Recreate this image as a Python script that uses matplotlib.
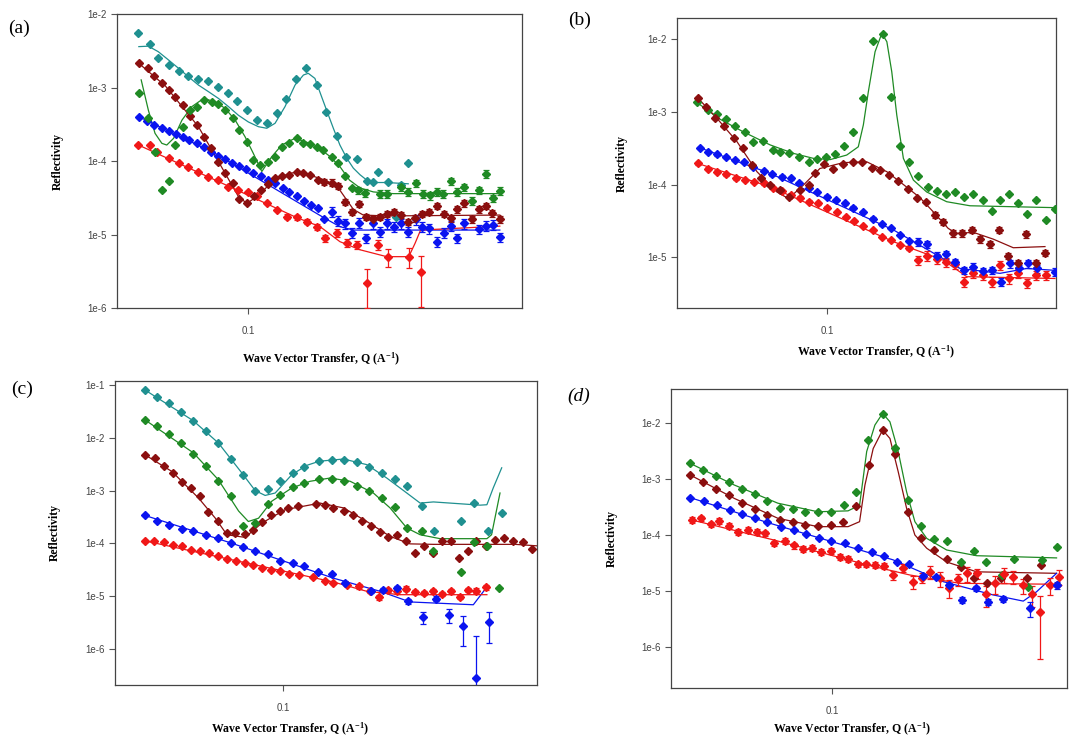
import numpy as np
import matplotlib
matplotlib.use("Agg")
import matplotlib.pyplot as plt
from matplotlib.ticker import NullLocator

plt.rcParams["mathtext.default"] = "regular"

# ---------------- colours ----------------
c_teal = "#1f9090"
c_green = "#1f8a24"
c_brown = "#8b0f0f"
c_blue = "#0a14f0"
c_red = "#f01818"

# ---------------- panel (a) ----------------
a_teal_q = [0.0647, 0.0678, 0.0700, 0.0729, 0.0759, 0.0787, 0.0819, 0.0852, 0.0887, 0.0923,
            0.0957, 0.0996, 0.1036, 0.1078, 0.1122, 0.1164, 0.1211, 0.1259, 0.1313, 0.1360,
            0.1422, 0.1476, 0.1539, 0.1602, 0.1644, 0.1677, 0.1745, 0.1800, 0.1839, 0.1889]
a_teal_r = [5.5e-3, 3.9e-3, 2.5e-3, 2.0e-3, 1.7e-3, 1.43e-3, 1.29e-3, 1.22e-3, 1.03e-3, 8.3e-4,
            6.6e-4, 5.0e-4, 3.6e-4, 3.3e-4, 4.45e-4, 6.9e-4, 1.29e-3, 1.86e-3, 1.08e-3, 4.6e-4,
            2.2e-4, 1.15e-4, 1.08e-4, 5.4e-5, 5.2e-5, 7.1e-5, 5.2e-5, 1.75e-5, 4.7e-5, 9.3e-5]
a_teal_fit_q = [0.0648, 0.0673, 0.0700, 0.0729, 0.0759, 0.0789, 0.0821, 0.0854, 0.0889, 0.0925,
                0.0962, 0.1001, 0.1042, 0.1077, 0.1113, 0.1158, 0.1205, 0.1246, 0.1270, 0.1304,
                0.1339, 0.1366, 0.1403, 0.1440, 0.1480, 0.1519, 0.1560, 0.1602, 0.1666, 0.1734,
                0.1889]
a_teal_fit_r = [3.6e-3, 3.65e-3, 3.07e-3, 2.37e-3, 1.82e-3, 1.40e-3, 1.08e-3, 8.8e-4, 7.1e-4, 5.5e-4,
                4.2e-4, 3.4e-4, 2.93e-4, 2.79e-4, 3.26e-4, 5.5e-4, 1.08e-3, 1.48e-3, 1.56e-3, 1.33e-3,
                7.5e-4, 4.9e-4, 2.79e-4, 1.65e-4, 1.09e-4, 8.0e-5, 6.5e-5, 5.5e-5, 5.1e-5, 5.1e-5,
                4.9e-5]

a_green_q = [0.0648, 0.0671, 0.0692, 0.0710, 0.0729, 0.0748, 0.0773, 0.0794, 0.0816, 0.0841,
             0.0866, 0.0889, 0.0913, 0.0940, 0.0965, 0.0995, 0.1021, 0.1049, 0.1084, 0.1113,
             0.1143, 0.1177, 0.1213, 0.1246, 0.1279, 0.1314, 0.1349, 0.1394, 0.1431, 0.1470,
             0.1510, 0.1550, 0.1591, 0.1689, 0.1734, 0.1839, 0.1889, 0.1948, 0.2005, 0.2059,
             0.2115, 0.2171, 0.2236, 0.2295, 0.2360, 0.2430, 0.2501, 0.2571, 0.2645, 0.2718]
a_green_r = [8.5e-4, 3.8e-4, 1.32e-4, 4.0e-5, 5.4e-5, 1.65e-4, 2.9e-4, 4.9e-4, 5.5e-4, 6.8e-4,
             6.4e-4, 6.0e-4, 4.9e-4, 3.9e-4, 2.64e-4, 1.83e-4, 1.03e-4, 8.8e-5, 9.8e-5, 1.15e-4,
             1.57e-4, 1.74e-4, 2.04e-4, 1.77e-4, 1.70e-4, 1.57e-4, 1.4e-4, 1.15e-4, 9.3e-5, 6.3e-5,
             4.3e-5, 4.0e-5, 3.7e-5, 3.6e-5, 3.6e-5, 4.5e-5, 3.8e-5, 5.0e-5, 3.6e-5, 3.4e-5,
             3.8e-5, 3.6e-5, 5.3e-5, 3.8e-5, 4.4e-5, 2.9e-5, 4.0e-5, 6.7e-5, 3.1e-5, 3.9e-5]
a_green_err = [0.03] * 31 + [0.12] * 19
a_green_fit_q = [0.0654, 0.0673, 0.0691, 0.0710, 0.0724, 0.0744, 0.0769, 0.0800, 0.0838, 0.0877,
                 0.0913, 0.0950, 0.0988, 0.1021, 0.1056, 0.1099, 0.1143, 0.1205, 0.1270, 0.1339,
                 0.1385, 0.1440, 0.1496, 0.1560, 0.1644, 0.1780, 0.2718]
a_green_fit_r = [1.27e-3, 4.9e-4, 2.38e-4, 1.74e-4, 1.65e-4, 2.04e-4, 3.6e-4, 5.5e-4, 7.1e-4, 6.4e-4,
                 5.2e-4, 3.6e-4, 2.14e-4, 1.27e-4, 7.2e-5, 1.15e-4, 1.65e-4, 2.04e-4, 1.77e-4, 1.41e-4,
                 1.15e-4, 8.4e-5, 5.5e-5, 4.3e-5, 3.8e-5, 3.6e-5, 3.6e-5]

a_brown_q = [0.0648, 0.0671, 0.0689, 0.0710, 0.0729, 0.0748, 0.0773, 0.0794, 0.0816, 0.0838,
             0.0864, 0.0889, 0.0913, 0.0940, 0.0965, 0.0995, 0.1025, 0.1053, 0.1084, 0.1113,
             0.1143, 0.1177, 0.1213, 0.1246, 0.1279, 0.1318, 0.1353, 0.1394, 0.1431, 0.1470,
             0.1510, 0.1553, 0.1597, 0.1644, 0.1689, 0.1734, 0.1783, 0.1839, 0.1889, 0.1941,
             0.1994, 0.2055, 0.2115, 0.2177, 0.2236, 0.2295, 0.2360, 0.2430, 0.2501, 0.2571,
             0.2638, 0.2718]
a_brown_r = [2.13e-3, 1.82e-3, 1.43e-3, 1.16e-3, 9.2e-4, 7.5e-4, 5.8e-4, 4.1e-4, 3.1e-4, 2.14e-4,
             1.49e-4, 9.8e-5, 6.8e-5, 5.0e-5, 3.0e-5, 2.7e-5, 3.3e-5, 4.0e-5, 4.9e-5, 5.8e-5,
             6.3e-5, 6.5e-5, 7.2e-5, 6.8e-5, 6.5e-5, 5.6e-5, 5.2e-5, 5.1e-5, 4.6e-5, 2.8e-5,
             2.04e-5, 2.6e-5, 1.75e-5, 1.61e-5, 1.75e-5, 1.9e-5, 2.04e-5, 1.84e-5, 1.49e-5, 1.66e-5,
             1.9e-5, 2.04e-5, 2.44e-5, 1.9e-5, 1.66e-5, 2.2e-5, 2.65e-5, 1.61e-5, 2.2e-5, 2.44e-5,
             1.94e-5, 1.61e-5]
a_brown_err = [0.03] * 26 + [0.1] * 26
a_brown_fit_q = [0.0648, 0.0720, 0.0821, 0.0913, 0.0962, 0.0995, 0.1042, 0.1099, 0.1173, 0.1222,
                 0.1304, 0.1366, 0.1431, 0.1480, 0.1519, 0.1580, 0.1734, 0.2718]
a_brown_fit_r = [2.13e-3, 1.05e-3, 2.93e-4, 6.8e-5, 3.3e-5, 2.65e-5, 3.4e-5, 5.2e-5, 6.7e-5, 7.2e-5,
                 6.1e-5, 5.4e-5, 4.3e-5, 2.94e-5, 2.2e-5, 1.84e-5, 1.79e-5, 1.84e-5]

a_blue_q = [0.0648, 0.0668, 0.0689, 0.0710, 0.0729, 0.0750, 0.0772, 0.0791, 0.0816, 0.0838,
            0.0864, 0.0887, 0.0913, 0.0937, 0.0965, 0.0992, 0.1021, 0.1052, 0.1081, 0.1113,
            0.1147, 0.1178, 0.1213, 0.1249, 0.1283, 0.1318, 0.1353, 0.1394, 0.1431, 0.1470,
            0.1513, 0.1553, 0.1597, 0.1644, 0.1689, 0.1734, 0.1783, 0.1839, 0.1889, 0.1952,
            0.1994, 0.2055, 0.2115, 0.2177, 0.2236, 0.2295, 0.2360, 0.2501, 0.2571, 0.2645,
            0.2718]
a_blue_r = [4.0e-4, 3.5e-4, 3.1e-4, 2.79e-4, 2.59e-4, 2.33e-4, 2.14e-4, 1.93e-4, 1.74e-4, 1.57e-4,
            1.34e-4, 1.18e-4, 1.06e-4, 9.3e-5, 8.6e-5, 7.7e-5, 6.9e-5, 6.3e-5, 5.5e-5, 5.0e-5,
            4.3e-5, 3.8e-5, 3.3e-5, 2.9e-5, 2.5e-5, 2.27e-5, 1.61e-5, 2.04e-5, 1.54e-5, 1.42e-5,
            1.06e-5, 1.45e-5, 8.9e-6, 1.42e-5, 1.09e-5, 1.42e-5, 1.28e-5, 1.42e-5, 1.09e-5, 1.61e-5,
            1.28e-5, 1.21e-5, 8.0e-6, 1.06e-5, 1.31e-5, 8.9e-6, 1.42e-5, 1.18e-5, 1.31e-5, 1.35e-5,
            9.2e-6]
a_blue_err = [0.03] * 27 + [0.15] * 24
a_blue_fit_q = [0.0648, 0.0877, 0.1357, 0.1440, 0.1519, 0.2718]
a_blue_fit_r = [4.0e-4, 1.27e-4, 1.66e-5, 1.28e-5, 1.15e-5, 1.15e-5]

a_red_q = [0.0647, 0.0676, 0.0696, 0.0729, 0.0759, 0.0789, 0.0821, 0.0854, 0.0887, 0.0923,
           0.0960, 0.0999, 0.1035, 0.1077, 0.1123, 0.1166, 0.1213, 0.1263, 0.1314, 0.1357,
           0.1422, 0.1480, 0.1543, 0.1605, 0.1677, 0.1745, 0.1893, 0.1984]
a_red_r = [1.65e-4, 1.65e-4, 1.34e-4, 1.09e-4, 9.3e-5, 8.4e-5, 7.2e-5, 6.1e-5, 5.5e-5, 4.5e-5,
           4.0e-5, 3.8e-5, 3.3e-5, 2.65e-5, 2.15e-5, 1.75e-5, 1.71e-5, 1.49e-5, 1.28e-5, 8.9e-6,
           1.06e-5, 7.7e-6, 7.2e-6, 2.2e-6, 7.3e-6, 5.0e-6, 5.0e-6, 3.05e-6]
a_red_err = [0.03] * 15 + [0.08, 0.08, 0.08, 0.1, 0.12, 0.12, 0.12, 0.12, 0.55, 0.15, 0.28, 0.3, 0.66]
a_red_fit_q = [0.0647, 0.0887, 0.1213, 0.1331, 0.1440, 0.1560, 0.1734, 0.1893, 0.1941, 0.1984, 0.2718]
a_red_fit_r = [1.65e-4, 5.3e-5, 1.7e-5, 1.28e-5, 8.0e-6, 6.2e-6, 5.0e-6, 5.0e-6, 7.6e-6, 1.15e-5, 1.3e-5]

# ---------------- panel (b) ----------------
b_green_q = [0.0596, 0.0622, 0.0646, 0.0670, 0.0694, 0.0722, 0.0746, 0.0775, 0.0806, 0.0830,
             0.0861, 0.0896, 0.0929, 0.0962, 0.0996, 0.1032, 0.1070, 0.1110, 0.1155, 0.1199,
             0.1247, 0.1288, 0.1336, 0.1387, 0.1437, 0.1495, 0.1545, 0.1604, 0.1662, 0.1723,
             0.1787, 0.1855, 0.1923, 0.1987, 0.2062, 0.2137, 0.2214, 0.2296, 0.2385, 0.2472]
b_green_r = [1.35e-3, 1.05e-3, 9.2e-4, 7.9e-4, 6.4e-4, 5.2e-4, 3.9e-4, 3.95e-4, 2.97e-4, 2.76e-4,
             2.68e-4, 2.4e-4, 2.05e-4, 2.23e-4, 2.4e-4, 2.6e-4, 3.4e-4, 5.2e-4, 1.56e-3, 9.4e-3,
             1.16e-2, 1.61e-3, 3.4e-4, 2.01e-4, 1.32e-4, 9.3e-5, 8.1e-5, 7.3e-5, 7.8e-5, 6.8e-5,
             7.3e-5, 6.1e-5, 4.3e-5, 6.1e-5, 7.5e-5, 5.5e-5, 3.9e-5, 6.1e-5, 3.3e-5, 4.6e-5]
b_green_fit_q = [0.0596, 0.0654, 0.0717, 0.0798, 0.0875, 0.0947, 0.1012, 0.1081, 0.1132, 0.1155,
                 0.1178, 0.1210, 0.1243, 0.1268, 0.1293, 0.1319, 0.1354, 0.1409, 0.1485, 0.1608,
                 0.1764, 0.2488]
b_green_fit_r = [1.35e-3, 7.9e-4, 5.3e-4, 3.5e-4, 2.68e-4, 2.29e-4, 2.2e-4, 2.54e-4, 3.3e-4, 6.6e-4,
                 1.88e-3, 6.7e-3, 1.2e-2, 9.2e-3, 3.55e-3, 9.0e-4, 2.29e-4, 1.15e-4, 7.9e-5, 5.8e-5,
                 5.1e-5, 4.8e-5]

b_brown_q = [0.0598, 0.0618, 0.0641, 0.0665, 0.0691, 0.0716, 0.0742, 0.0769, 0.0798, 0.0828,
             0.0861, 0.0898, 0.0932, 0.0953, 0.0988, 0.1025, 0.1064, 0.1107, 0.1148, 0.1194,
             0.1234, 0.1280, 0.1327, 0.1378, 0.1428, 0.1481, 0.1536, 0.1587, 0.1651, 0.1707,
             0.1776, 0.1835, 0.1910, 0.1981, 0.2054, 0.2137, 0.2204, 0.2291, 0.2376]
b_brown_r = [1.56e-3, 1.17e-3, 8.3e-4, 6.4e-4, 4.3e-4, 3.2e-4, 1.85e-4, 1.21e-4, 9.8e-5, 8.4e-5,
             6.8e-5, 8.4e-5, 1.0e-4, 1.42e-4, 1.89e-4, 1.66e-4, 1.89e-4, 2.05e-4, 2.05e-4, 1.7e-4,
             1.58e-4, 1.35e-4, 1.11e-4, 8.6e-5, 6.6e-5, 5.8e-5, 3.8e-5, 3.07e-5, 2.12e-5, 2.12e-5,
             2.36e-5, 1.77e-5, 1.5e-5, 2.36e-5, 1.05e-5, 8.2e-6, 2.06e-5, 8.2e-6, 1.16e-5]
b_brown_err = [0.03] * 26 + [0.1] * 13
b_brown_fit_q = [0.0598, 0.0646, 0.0699, 0.0757, 0.0819, 0.0858, 0.0910, 0.0972, 0.1067, 0.1171,
                 0.1268, 0.1354, 0.1446, 0.1525, 0.1618, 0.1673, 0.1787, 0.1936, 0.2095, 0.2376]
b_brown_fit_r = [1.56e-3, 8.1e-4, 3.9e-4, 1.5e-4, 7.9e-5, 6.4e-5, 9.8e-5, 1.66e-4, 2.0e-4, 2.05e-4,
                 1.5e-4, 1.0e-4, 6.6e-5, 4.2e-5, 2.49e-5, 2.12e-5, 2.2e-5, 1.77e-5, 1.35e-5, 1.4e-5]

b_blue_q = [0.0603, 0.0624, 0.0646, 0.0670, 0.0694, 0.0719, 0.0746, 0.0777, 0.0803, 0.0835,
            0.0866, 0.0896, 0.0929, 0.0962, 0.0999, 0.1035, 0.1074, 0.1110, 0.1152, 0.1199,
            0.1243, 0.1288, 0.1336, 0.1387, 0.1437, 0.1489, 0.1545, 0.1604, 0.1662, 0.1725,
            0.1787, 0.1855, 0.1923, 0.1993, 0.2067, 0.2145, 0.2222, 0.2301, 0.2472]
b_blue_r = [3.2e-4, 2.82e-4, 2.6e-4, 2.4e-4, 2.17e-4, 2.05e-4, 1.75e-4, 1.53e-4, 1.38e-4, 1.28e-4,
            1.21e-4, 1.04e-4, 9.0e-5, 7.9e-5, 6.8e-5, 6.1e-5, 5.5e-5, 4.8e-5, 4.2e-5, 3.4e-5,
            2.83e-5, 2.54e-5, 2.01e-5, 1.66e-5, 1.63e-5, 1.5e-5, 1.05e-5, 1.09e-5, 8.5e-6, 6.6e-6,
            7.4e-6, 6.4e-6, 6.6e-6, 4.6e-6, 8.2e-6, 7.0e-6, 8.2e-6, 7.0e-6, 6.3e-6]
b_blue_err = [0.04] * 24 + [0.12] * 15
b_blue_fit_q = [0.0603, 0.0798, 0.1303, 0.1696, 0.1987, 0.2209, 0.2472]
b_blue_fit_r = [3.2e-4, 1.42e-4, 2.36e-5, 7.0e-6, 6.0e-6, 7.0e-6, 6.6e-6]

b_red_q = [0.0598, 0.0622, 0.0646, 0.0670, 0.0697, 0.0722, 0.0748, 0.0777, 0.0806, 0.0835,
           0.0866, 0.0899, 0.0932, 0.0966, 0.1001, 0.1039, 0.1078, 0.1113, 0.1155, 0.1199,
           0.1243, 0.1288, 0.1336, 0.1387, 0.1437, 0.1489, 0.1545, 0.1604, 0.1662, 0.1723,
           0.1783, 0.1855, 0.1923, 0.1987, 0.2062, 0.2137, 0.2209, 0.2296, 0.2385]
b_red_r = [1.95e-4, 1.66e-4, 1.5e-4, 1.38e-4, 1.21e-4, 1.15e-4, 1.09e-4, 1.04e-4, 9.0e-5, 8.1e-5,
           7.1e-5, 6.6e-5, 5.8e-5, 5.5e-5, 4.8e-5, 4.2e-5, 3.6e-5, 3.14e-5, 2.7e-5, 2.36e-5,
           1.91e-5, 1.72e-5, 1.47e-5, 1.32e-5, 9.1e-6, 1.05e-5, 9.6e-6, 8.6e-6, 8.0e-6, 4.6e-6,
           6.0e-6, 5.7e-6, 4.6e-6, 7.8e-6, 5.1e-6, 6.0e-6, 4.4e-6, 5.7e-6, 5.7e-6]
b_red_err = [0.04] * 24 + [0.15] * 15
b_red_fit_q = [0.0598, 0.0798, 0.1303, 0.1587, 0.1741, 0.2472]
b_red_fit_r = [1.95e-4, 9.3e-5, 1.63e-5, 9.1e-6, 5.4e-6, 5.1e-6]

# ---------------- panel (c) ----------------
c_teal_q = [0.0577, 0.0606, 0.0636, 0.0667, 0.0700, 0.0736, 0.0773, 0.0813, 0.0852, 0.0895,
            0.0941, 0.0988, 0.1038, 0.1088, 0.1155, 0.1213, 0.1275, 0.1343, 0.1409, 0.1480,
            0.1560, 0.1638, 0.1734, 0.1821, 0.2026, 0.2134, 0.2258, 0.2382]
c_teal_r = [8.1e-2, 5.9e-2, 4.6e-2, 3.1e-2, 2.1e-2, 1.36e-2, 8.0e-3, 4.0e-3, 2.0e-3, 1.0e-3,
            1.07e-3, 1.54e-3, 2.15e-3, 2.76e-3, 3.6e-3, 3.85e-3, 3.85e-3, 3.5e-3, 2.76e-3, 2.15e-3,
            1.68e-3, 1.24e-3, 5.2e-4, 1.74e-4, 2.6e-4, 5.8e-4, 1.7e-4, 3.8e-4]
c_teal_fit_q = [0.0577, 0.0700, 0.0773, 0.0849, 0.0895, 0.0931, 0.0969, 0.1035, 0.1098, 0.1155,
                0.1271, 0.1394, 0.1509, 0.1634, 0.1723, 0.1816, 0.2187, 0.2246, 0.2303, 0.2382]
c_teal_fit_r = [8.1e-2, 2.1e-2, 8.0e-3, 2.15e-3, 1.0e-3, 8.1e-4, 9.0e-4, 2.0e-3, 3.0e-3, 3.6e-3,
                3.96e-3, 3.1e-3, 1.73e-3, 9.0e-4, 5.8e-4, 6.1e-4, 5.3e-4, 5.4e-4, 1.12e-3, 2.7e-3]

c_green_q = [0.0577, 0.0606, 0.0636, 0.0667, 0.0700, 0.0736, 0.0773, 0.0813, 0.0852, 0.0895,
             0.0941, 0.0988, 0.1038, 0.1088, 0.1155, 0.1213, 0.1275, 0.1343, 0.1409, 0.1480,
             0.1560, 0.1638, 0.1734, 0.1816, 0.2026, 0.2134, 0.2246, 0.2359]
c_green_r = [2.2e-2, 1.65e-2, 1.18e-2, 8.0e-3, 4.9e-3, 2.9e-3, 1.5e-3, 7.8e-4, 2.1e-4, 2.43e-4,
             5.6e-4, 8.4e-4, 1.15e-3, 1.39e-3, 1.66e-3, 1.66e-3, 1.5e-3, 1.24e-3, 9.7e-4, 7.2e-4,
             4.8e-4, 1.96e-4, 1.69e-4, 7.3e-5, 2.87e-5, 1.06e-4, 8.8e-5, 1.43e-5]
c_green_fit_q = [0.0577, 0.0700, 0.0773, 0.0838, 0.0871, 0.0907, 0.0956, 0.1035, 0.1113, 0.1205,
                 0.1305, 0.1431, 0.1529, 0.1634, 0.1723, 0.1865, 0.2246, 0.2288, 0.2366]
c_green_fit_r = [2.2e-2, 5.2e-3, 1.61e-3, 4.1e-4, 2.6e-4, 3.0e-4, 6.3e-4, 1.12e-3, 1.5e-3, 1.73e-3,
                 1.5e-3, 9.0e-4, 4.7e-4, 1.96e-4, 1.46e-4, 1.23e-4, 1.23e-4, 1.46e-4, 9.0e-4]

c_brown_q = [0.0577, 0.0602, 0.0624, 0.0647, 0.0670, 0.0694, 0.0719, 0.0743, 0.0772, 0.0800,
             0.0827, 0.0858, 0.0889, 0.0919, 0.0952, 0.0988, 0.1021, 0.1060, 0.1140, 0.1181,
             0.1221, 0.1271, 0.1319, 0.1366, 0.1416, 0.1470, 0.1519, 0.1574, 0.1628, 0.1689,
             0.1750, 0.1812, 0.1877, 0.1946, 0.2013, 0.2085, 0.2155, 0.2237, 0.2320, 0.2405,
             0.2495, 0.2587, 0.2686]
c_brown_r = [4.8e-3, 4.1e-3, 2.9e-3, 2.15e-3, 1.46e-3, 1.12e-3, 7.8e-4, 3.9e-4, 2.7e-4, 1.57e-4,
             1.57e-4, 1.51e-4, 1.82e-4, 2.54e-4, 3.5e-4, 4.1e-4, 4.7e-4, 5.05e-4, 5.6e-4, 5.4e-4,
             4.7e-4, 4.1e-4, 3.4e-4, 2.7e-4, 2.1e-4, 1.64e-4, 1.3e-4, 1.46e-4, 1.12e-4, 6.6e-5,
             8.8e-5, 6.6e-5, 1.12e-4, 1.12e-4, 5.3e-5, 7.3e-5, 1.1e-4, 8.8e-5, 1.17e-4, 1.25e-4,
             1.1e-4, 1.07e-4, 7.8e-5]
c_brown_fit_q = [0.0577, 0.0643, 0.0715, 0.0764, 0.0800, 0.0860, 0.0919, 0.1008, 0.1158, 0.1271,
                 0.1394, 0.1529, 0.1655, 0.1816, 0.2513, 0.2741]
c_brown_fit_r = [4.8e-3, 2.3e-3, 7.2e-4, 3.0e-4, 1.46e-4, 1.3e-4, 2.43e-4, 4.35e-4, 5.8e-4, 4.7e-4,
                 2.6e-4, 1.36e-4, 9.8e-5, 9.6e-5, 9.6e-5, 9.0e-5]

c_blue_q = [0.0577, 0.0606, 0.0636, 0.0668, 0.0700, 0.0736, 0.0773, 0.0813, 0.0852, 0.0895,
            0.0941, 0.0988, 0.1038, 0.1088, 0.1150, 0.1213, 0.1279, 0.1416, 0.1489, 0.1571,
            0.1644, 0.1741, 0.1835, 0.1934, 0.2040, 0.2150, 0.2266]
c_blue_r = [3.4e-4, 2.62e-4, 2.26e-4, 1.9e-4, 1.69e-4, 1.46e-4, 1.26e-4, 1.02e-4, 8.4e-5, 7.3e-5,
            6.3e-5, 4.7e-5, 4.25e-5, 3.7e-5, 2.87e-5, 2.63e-5, 1.8e-5, 1.24e-5, 1.33e-5, 1.43e-5,
            8.0e-6, 4.0e-6, 9.0e-6, 4.5e-6, 2.7e-6, 2.8e-7, 3.2e-6]
c_blue_err = [0.03] * 16 + [0.06, 0.08, 0.08, 0.08, 0.1, 0.27, 0.1, 0.3, 0.57, 5.3, 0.6]
c_blue_fit_q = [0.0577, 0.0813, 0.1221, 0.1470, 0.1655, 0.2128, 0.2246]
c_blue_fit_r = [3.4e-4, 1.02e-4, 2.2e-5, 1.24e-5, 7.8e-6, 6.9e-6, 1.5e-5]

c_red_q = [0.0577, 0.0600, 0.0622, 0.0647, 0.0670, 0.0694, 0.0719, 0.0745, 0.0772, 0.0800,
           0.0829, 0.0858, 0.0889, 0.0921, 0.0954, 0.0988, 0.1024, 0.1063, 0.1128, 0.1181,
           0.1221, 0.1287, 0.1354, 0.1412, 0.1465, 0.1519, 0.1571, 0.1628, 0.1689, 0.1750,
           0.1812, 0.1877, 0.1946, 0.2019, 0.2085, 0.2155, 0.2237]
c_red_r = [1.12e-4, 1.1e-4, 1.05e-4, 9.4e-5, 8.8e-5, 7.6e-5, 7.1e-5, 6.6e-5, 5.9e-5, 5.1e-5,
           4.7e-5, 4.25e-5, 3.85e-5, 3.5e-5, 3.1e-5, 2.96e-5, 2.63e-5, 2.55e-5, 2.28e-5, 1.97e-5,
           1.78e-5, 1.65e-5, 1.54e-5, 1.27e-5, 9.5e-6, 1.33e-5, 1.24e-5, 1.39e-5, 1.2e-5, 1.15e-5,
           1.24e-5, 1.1e-5, 1.24e-5, 9.7e-6, 1.31e-5, 1.28e-5, 1.47e-5]
c_red_err = [0.03] * 22 + [0.1] * 15
c_red_fit_q = [0.0577, 0.0838, 0.1221, 0.1394, 0.1591, 0.2246]
c_red_fit_r = [1.12e-4, 4.6e-5, 1.86e-5, 1.24e-5, 1.07e-5, 1.07e-5]

# ---------------- panel (d) ----------------
d_green_q = [0.0570, 0.0599, 0.0632, 0.0664, 0.0700, 0.0736, 0.0773, 0.0813, 0.0857, 0.0900,
             0.0946, 0.0995, 0.1049, 0.1101, 0.1154, 0.1223, 0.1284, 0.1354, 0.1422, 0.1499,
             0.1580, 0.1666, 0.1756, 0.1846, 0.1962, 0.2059, 0.2180, 0.2306, 0.2439]
d_green_r = [1.9e-3, 1.45e-3, 1.15e-3, 8.95e-4, 6.6e-4, 5.5e-4, 4.0e-4, 3.07e-4, 2.9e-4, 2.6e-4,
             2.6e-4, 2.6e-4, 3.5e-4, 5.9e-4, 5.0e-3, 1.43e-2, 3.6e-3, 4.2e-4, 1.47e-4, 8.5e-5,
             7.8e-5, 3.3e-5, 5.2e-5, 3.3e-5, 1.93e-5, 3.7e-5, 1.19e-5, 3.6e-5, 6.0e-5]
d_green_fit_q = [0.0570, 0.0679, 0.0807, 0.0946, 0.1066, 0.1116, 0.1148, 0.1186, 0.1223, 0.1259,
                 0.1301, 0.1345, 0.1390, 0.1457, 0.1577, 0.1776, 0.2439]
d_green_fit_r = [1.9e-3, 7.8e-4, 3.7e-4, 2.6e-4, 2.7e-4, 3.4e-4, 3.1e-3, 9.2e-3, 1.49e-2, 1.05e-2,
                 3.1e-3, 5.9e-4, 1.73e-4, 8.7e-5, 5.4e-5, 4.27e-5, 3.9e-5]

d_brown_q = [0.0570, 0.0599, 0.0632, 0.0664, 0.0700, 0.0736, 0.0773, 0.0813, 0.0857, 0.0900,
             0.0946, 0.0995, 0.1045, 0.1101, 0.1160, 0.1223, 0.1284, 0.1354, 0.1422, 0.1499,
             0.1580, 0.1666, 0.1756, 0.1851, 0.1954, 0.2165, 0.2296, 0.2439]
d_brown_r = [1.18e-3, 8.7e-4, 6.6e-4, 5.2e-4, 3.7e-4, 2.9e-4, 2.28e-4, 1.85e-4, 1.68e-4, 1.51e-4,
             1.47e-4, 1.51e-4, 1.73e-4, 3.3e-4, 1.78e-3, 7.5e-3, 2.76e-3, 2.54e-4, 9.0e-5, 5.4e-5,
             3.7e-5, 2.7e-5, 1.73e-5, 1.37e-5, 1.73e-5, 1.73e-5, 2.9e-5, 1.28e-5]
d_brown_fit_q = [0.0570, 0.0679, 0.0807, 0.0946, 0.1066, 0.1116, 0.1140, 0.1178, 0.1223, 0.1259,
                 0.1301, 0.1345, 0.1390, 0.1457, 0.1577, 0.1776, 0.2439]
d_brown_fit_r = [1.18e-3, 4.5e-4, 1.99e-4, 1.41e-4, 1.41e-4, 1.73e-4, 7.8e-4, 3.5e-3, 7.5e-3, 5.3e-3,
                 1.35e-3, 3.0e-4, 1.0e-4, 5.8e-5, 3.3e-5, 2.2e-5, 2.07e-5]

d_blue_q = [0.0570, 0.0602, 0.0634, 0.0666, 0.0700, 0.0738, 0.0773, 0.0816, 0.0860, 0.0903,
            0.0949, 0.0997, 0.1052, 0.1109, 0.1171, 0.1229, 0.1293, 0.1359, 0.1434, 0.1511,
            0.1593, 0.1673, 0.1771, 0.1858, 0.1973, 0.2194, 0.2439]
d_blue_r = [4.65e-4, 4.05e-4, 3.4e-4, 2.8e-4, 2.34e-4, 2.04e-4, 1.68e-4, 1.41e-4, 1.23e-4, 1.03e-4,
            8.7e-5, 7.8e-5, 7.1e-5, 5.8e-5, 4.9e-5, 4.27e-5, 3.3e-5, 3.0e-5, 1.88e-5, 1.8e-5,
            1.28e-5, 6.9e-6, 1.12e-5, 6.4e-6, 7.2e-6, 4.9e-6, 1.28e-5]
d_blue_err = [0.03] * 20 + [0.1, 0.12, 0.1, 0.12, 0.12, 0.3, 0.15]
d_blue_fit_q = [0.0570, 0.0773, 0.1275, 0.1555, 0.1897, 0.2137, 0.2253, 0.2439]
d_blue_fit_r = [4.65e-4, 1.68e-4, 3.6e-5, 1.47e-5, 8.5e-6, 6.6e-6, 9.7e-6, 2.07e-5]

d_red_q = [0.0574, 0.0595, 0.0618, 0.0640, 0.0664, 0.0688, 0.0717, 0.0743, 0.0767, 0.0796,
           0.0829, 0.0860, 0.0891, 0.0924, 0.0958, 0.0995, 0.1031, 0.1068, 0.1109, 0.1146,
           0.1186, 0.1229, 0.1275, 0.1327, 0.1378, 0.1427, 0.1476, 0.1536, 0.1593, 0.1651,
           0.1711, 0.1776, 0.1842, 0.1910, 0.1981, 0.2054, 0.2132, 0.2210, 0.2284, 0.2376,
           0.2465]
d_red_r = [1.85e-4, 1.99e-4, 1.55e-4, 1.78e-4, 1.47e-4, 1.15e-4, 1.23e-4, 1.15e-4, 1.07e-4, 7.1e-5,
           7.8e-5, 6.5e-5, 5.6e-5, 5.9e-5, 5.0e-5, 5.2e-5, 4.1e-5, 3.7e-5, 3.0e-5, 3.0e-5,
           2.9e-5, 2.83e-5, 1.93e-5, 2.6e-5, 1.47e-5, 1.73e-5, 2.2e-5, 1.68e-5, 1.15e-5, 1.64e-5,
           2.07e-5, 2.07e-5, 8.7e-6, 1.37e-5, 1.99e-5, 1.8e-5, 1.28e-5, 8.7e-6, 4.3e-6, 1.28e-5,
           1.8e-5]
d_red_err = [0.12] * 20 + [0.12, 0.12, 0.2, 0.15, 0.25, 0.2, 0.25, 0.3, 0.35, 0.25,
                           0.3, 0.2, 0.4, 0.35, 0.3, 0.25, 0.3, 0.4, 0.86, 0.35, 0.3]
d_red_fit_q = [0.0574, 0.0796, 0.1154, 0.1363, 0.1662, 0.2439]
d_red_fit_r = [1.85e-4, 8.1e-5, 2.9e-5, 1.93e-5, 1.37e-5, 1.32e-5]

# ticks
x_tick = [0.1]
x_tick_label = ["0.1"]
a_yticks = [1e-6, 1e-5, 1e-4, 1e-3, 1e-2]
a_ylabels = ["1e-6", "1e-5", "1e-4", "1e-3", "1e-2"]
b_yticks = [1e-5, 1e-4, 1e-3, 1e-2]
b_ylabels = ["1e-5", "1e-4", "1e-3", "1e-2"]
c_yticks = [1e-6, 1e-5, 1e-4, 1e-3, 1e-2, 1e-1]
c_ylabels = ["1e-6", "1e-5", "1e-4", "1e-3", "1e-2", "1e-1"]
d_yticks = [1e-6, 1e-5, 1e-4, 1e-3, 1e-2]
d_ylabels = ["1e-6", "1e-5", "1e-4", "1e-3", "1e-2"]

MS = 3.9


def draw_series(ax, q, r, col, err=None):
    q = np.array(q)
    r = np.array(r)
    if err is None:
        ax.plot(q, r, "D", color=col, ms=MS, mec=col, zorder=3)
    else:
        e = r * np.array(err)
        lo = np.minimum(e, r * 0.98)
        ax.errorbar(q, r, yerr=[lo, e], fmt="D", color=col, ms=MS, mec=col,
                    ecolor=col, elinewidth=0.9, capsize=2.3, capthick=0.9, zorder=3)


def draw_fit(ax, q, r, col):
    ax.plot(q, r, "-", color=col, lw=0.9, zorder=2)


def style_axes(ax, xlim, ylim, yticks, ylabels, letter, letter_xy, italic=False,
               xlabel_xy=(0.5, -0.16), ylabel_x=-0.13):
    ax.set_xscale("log")
    ax.set_yscale("log")
    ax.set_xlim(xlim)
    ax.set_ylim(ylim)
    ax.set_xticks(x_tick)
    ax.set_xticklabels(x_tick_label)
    ax.xaxis.set_minor_locator(NullLocator())
    ax.set_yticks(yticks)
    ax.set_yticklabels(ylabels)
    ax.yaxis.set_minor_locator(NullLocator())
    ax.tick_params(axis="both", direction="out", length=4, width=0.8, colors="#555555",
                   labelsize=7, labelcolor="#444444")
    ax.tick_params(axis="x", pad=9)
    for lab in ax.get_xticklabels() + ax.get_yticklabels():
        lab.set_family("Liberation Sans")
    for sp in ax.spines.values():
        sp.set_color("#444444")
        sp.set_linewidth(0.9)
    ax.set_xlabel("Wave Vector Transfer, Q (A$^{-1}$)", fontfamily="Liberation Serif",
                  fontweight="bold", fontsize=8.5)
    ax.xaxis.set_label_coords(*xlabel_xy)
    ax.set_ylabel("Reflectivity", fontfamily="Liberation Serif", fontweight="bold", fontsize=8.5)
    ax.yaxis.set_label_coords(ylabel_x, 0.5)
    fig.text(letter_xy[0], letter_xy[1], letter, fontsize=14, family="Liberation Serif",
             style="italic" if italic else "normal", va="center", ha="left")


fig = plt.figure(figsize=(10.69, 7.41), dpi=100)

ax_a = fig.add_axes([0.1094, 0.5843, 0.3789, 0.3968])
ax_b = fig.add_axes([0.6333, 0.5843, 0.3545, 0.3914])
ax_c = fig.add_axes([0.1076, 0.0756, 0.3948, 0.4103])
ax_d = fig.add_axes([0.6277, 0.0715, 0.3704, 0.4035])

# (a)
draw_fit(ax_a, a_teal_fit_q, a_teal_fit_r, c_teal)
draw_fit(ax_a, a_green_fit_q, a_green_fit_r, c_green)
draw_fit(ax_a, a_brown_fit_q, a_brown_fit_r, c_brown)
draw_fit(ax_a, a_blue_fit_q, a_blue_fit_r, c_blue)
draw_fit(ax_a, a_red_fit_q, a_red_fit_r, c_red)
draw_series(ax_a, a_red_q, a_red_r, c_red, a_red_err)
draw_series(ax_a, a_blue_q, a_blue_r, c_blue, a_blue_err)
draw_series(ax_a, a_brown_q, a_brown_r, c_brown, a_brown_err)
draw_series(ax_a, a_green_q, a_green_r, c_green, a_green_err)
draw_series(ax_a, a_teal_q, a_teal_r, c_teal)
style_axes(ax_a, (0.0594, 0.2968), (1e-6, 1e-2), a_yticks, a_ylabels, "(a)", (0.008, 0.962),
           xlabel_xy=(0.504, -0.146), ylabel_x=-0.131)

# (b)
draw_fit(ax_b, b_green_fit_q, b_green_fit_r, c_green)
draw_fit(ax_b, b_brown_fit_q, b_brown_fit_r, c_brown)
draw_fit(ax_b, b_blue_fit_q, b_blue_fit_r, c_blue)
draw_fit(ax_b, b_red_fit_q, b_red_fit_r, c_red)
draw_series(ax_b, b_red_q, b_red_r, c_red, b_red_err)
draw_series(ax_b, b_blue_q, b_blue_r, c_blue, b_blue_err)
draw_series(ax_b, b_brown_q, b_brown_r, c_brown, b_brown_err)
draw_series(ax_b, b_green_q, b_green_r, c_green)
style_axes(ax_b, (0.0551, 0.2482), (2.0e-6, 1.95e-2), b_yticks, b_ylabels, "(b)", (0.531, 0.972),
           xlabel_xy=(0.525, -0.124), ylabel_x=-0.129)

# (c)
draw_fit(ax_c, c_teal_fit_q, c_teal_fit_r, c_teal)
draw_fit(ax_c, c_green_fit_q, c_green_fit_r, c_green)
draw_fit(ax_c, c_brown_fit_q, c_brown_fit_r, c_brown)
draw_fit(ax_c, c_blue_fit_q, c_blue_fit_r, c_blue)
draw_fit(ax_c, c_red_fit_q, c_red_fit_r, c_red)
draw_series(ax_c, c_red_q, c_red_r, c_red, c_red_err)
draw_series(ax_c, c_blue_q, c_blue_r, c_blue, c_blue_err)
draw_series(ax_c, c_brown_q, c_brown_r, c_brown)
draw_series(ax_c, c_green_q, c_green_r, c_green)
draw_series(ax_c, c_teal_q, c_teal_r, c_teal)
style_axes(ax_c, (0.0513, 0.2741), (2.09e-7, 0.119), c_yticks, c_ylabels, "(c)", (0.010, 0.475),
           xlabel_xy=(0.415, -0.120), ylabel_x=-0.128)

# (d)
draw_fit(ax_d, d_green_fit_q, d_green_fit_r, c_green)
draw_fit(ax_d, d_brown_fit_q, d_brown_fit_r, c_brown)
draw_fit(ax_d, d_blue_fit_q, d_blue_fit_r, c_blue)
draw_fit(ax_d, d_red_fit_q, d_red_fit_r, c_red)
draw_series(ax_d, d_red_q, d_red_r, c_red, d_red_err)
draw_series(ax_d, d_blue_q, d_blue_r, c_blue, d_blue_err)
draw_series(ax_d, d_brown_q, d_brown_r, c_brown)
draw_series(ax_d, d_green_q, d_green_r, c_green)
style_axes(ax_d, (0.0528, 0.2542), (1.85e-7, 4.05e-2), d_yticks, d_ylabels, "(d)", (0.531, 0.465),
           italic=True, xlabel_xy=(0.457, -0.110), ylabel_x=-0.134)

fig.savefig("out.png", dpi=100)
